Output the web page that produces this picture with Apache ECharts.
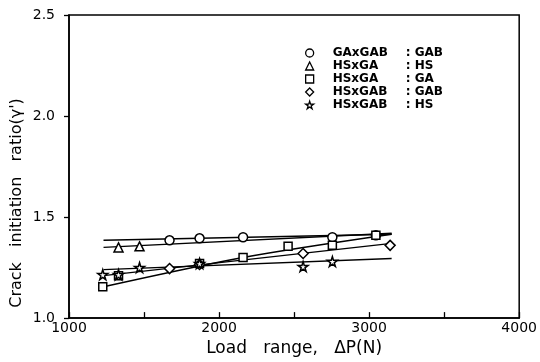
<!DOCTYPE html>
<html><head><meta charset="utf-8">
<script src="https://cdn.jsdelivr.net/npm/echarts@6/dist/echarts.min.js"></script>
<style>html,body{margin:0;padding:0;background:#fff}#c{width:540px;height:362px}</style>
</head><body><div id="c"></div>
<script>
// ---- data ----
const seriesNames = ['GAxGAB : GAB', 'HSxGA : HS', 'HSxGA : GA', 'HSxGAB : GAB', 'HSxGAB : HS'];
const circlePts   = [[1670,1.385],[1870,1.395],[2160,1.40],[2755,1.40],[3045,1.41]];
const trianglePts = [[1330,1.35],[1470,1.355]];
const squarePts   = [[1225,1.155],[1330,1.21],[1870,1.27],[2160,1.30],[2460,1.355],[2755,1.36],[3045,1.41]];
const diamondPts  = [[1670,1.245],[1870,1.265],[2560,1.32],[3140,1.36]];
const starPts     = [[1225,1.215],[1330,1.215],[1470,1.25],[1870,1.27],[2560,1.255],[2755,1.28]];
// fitted lines
const circleFit   = [[1230,1.385],[3150,1.415]];
const triangleFit = [[1230,1.35],[3150,1.42]];
const squareFit   = [[1230,1.155],[2160,1.30],[3150,1.415]];
const diamondFit  = [[1230,1.21],[3150,1.37]];
const starFit     = [[1230,1.24],[3150,1.295]];
const xTicks = [1000, 2000, 3000, 4000];
const yTicks = [1.0, 1.5, 2.0, 2.5];

const STAR = 'path://M50,0 L61,35 L98,35 L68,57 L79,91 L50,70 L21,91 L32,57 L2,35 L39,35 Z';
const symbols = ['circle', 'triangle', 'rect', 'diamond', STAR];
const pts = [circlePts, trianglePts, squarePts, diamondPts, starPts];
const fits = [circleFit, triangleFit, squareFit, diamondFit, starFit];
const sizes = [9, 9, 8, 10, 10];

const series = [];
fits.forEach((f, i) => series.push({
  type: 'line', data: f, symbol: 'none', silent: true, smooth: i === 2 ? 0.3 : false,
  lineStyle: {color: '#000', width: 1.4}, z: 2
}));
pts.forEach((p, i) => series.push({
  name: seriesNames[i], type: 'scatter', data: p, symbol: symbols[i], symbolSize: sizes[i],
  itemStyle: {color: '#fff', borderColor: '#000', borderWidth: 1.5, opacity: 1}, z: 3
}));

const legendFont = {fontFamily: 'DejaVu Sans', fontSize: 12, fontWeight: 'bold', color: '#000', lineHeight: 11};
const chart = echarts.init(document.getElementById('c'), null, {renderer: 'canvas'});
chart.setOption({
  animation: false,
  backgroundColor: '#fff',
  textStyle: {fontFamily: 'DejaVu Sans'},
  grid: {left: 69, right: 19, top: 15, bottom: 34, show: true, borderColor: '#000', borderWidth: 1.5},
  legend: {
    data: seriesNames, orient: 'vertical', left: 305, top: 47, itemWidth: 8, itemHeight: 8, itemGap: 1,
    padding: 0,
    itemStyle: {borderWidth: 1.3},
    textStyle: Object.assign({}, legendFont, {
      rich: {
        s: Object.assign({width: 14}, legendFont),
        n: Object.assign({width: 73}, legendFont),
        v: Object.assign({}, legendFont)
      }
    }),
    formatter: name => {
      const parts = name.split(' : ');
      return '{s| }{n|' + parts[0] + '}{v|: ' + parts[1] + '}';
    }
  },
  xAxis: {
    type: 'value', min: 1000, max: 4000, interval: 500,
    name: 'Load   range,   ΔP(N)', nameLocation: 'middle', nameGap: 14,
    nameTextStyle: {fontSize: 17, color: '#000', fontFamily: 'DejaVu Sans'},
    axisLine: {lineStyle: {color: '#000', width: 1.5}},
    axisTick: {inside: true, length: 6, lineStyle: {color: '#000', width: 1.3}},
    axisLabel: {color: '#000', fontSize: 14, margin: 3,
      formatter: v => xTicks.indexOf(v) >= 0 ? String(v) : ''},
    splitLine: {show: false}
  },
  yAxis: {
    type: 'value', min: 1.0, max: 2.5, interval: 0.5,
    axisLine: {lineStyle: {color: '#000', width: 1.5}},
    axisTick: {inside: false, length: 5, lineStyle: {color: '#000', width: 1.3}},
    axisLabel: {color: '#000', fontSize: 14, margin: 14,
      formatter: v => { const t = yTicks.find(k => Math.abs(k - v) < 1e-9); return t !== undefined ? t.toFixed(1) : ''; }},
    splitLine: {show: false}
  },
  graphic: [{
    type: 'text', x: 17, y: 203, rotation: Math.PI / 2,
    style: {text: 'Crack   initiation   ratio(γ\')', fontSize: 16, fontFamily: 'DejaVu Sans', fill: '#000',
      align: 'center', verticalAlign: 'middle'}
  }],
  series: series
});
</script></body></html>
